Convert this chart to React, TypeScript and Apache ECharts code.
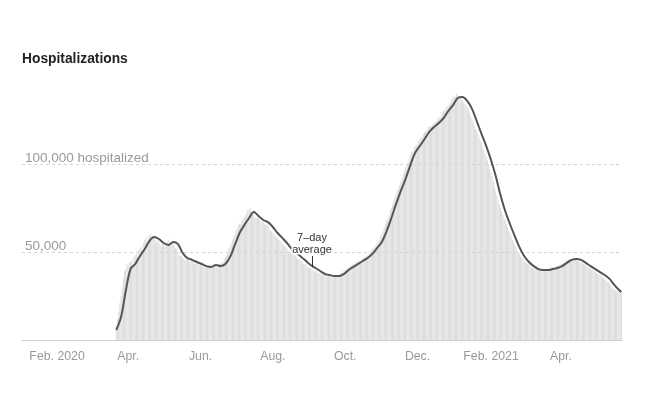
import React, { useEffect, useRef } from "react";
import * as echarts from "echarts";

// Axis extent (daily categories) and data start
const AXIS_START = "2020-01-08";
const AXIS_END = "2021-05-27";
const DATA_START = "2020-03-27";
const AVG_STEP_DAYS = 4;

// Tick dates and their labels
const tickDates = ["2020-02-01", "2020-04-01", "2020-06-01", "2020-08-01", "2020-10-01", "2020-12-01", "2021-02-01", "2021-04-01"];
const tickLabels = ["Feb. 2020", "Apr.", "Jun.", "Aug.", "Oct.", "Dec.", "Feb. 2021", "Apr."];

// Grid line values (thousands) and labels
const gridValues = [50, 100];
const gridLabels = ["50,000", "100,000 hospitalized"];

// Daily hospitalized (thousands), from 2020-03-27
const dailyHosp = [
  8, 12, 16, 21, 25, 30, 35, 39, 40, 43, 42, 44, 44, 45, 43, 47,
  48, 49, 47, 51, 52, 53, 51, 55, 57, 58, 56, 59, 59, 60, 57, 59,
  58, 57, 55, 57, 56, 54, 53, 55, 55, 53, 54, 56, 57, 55, 54, 56,
  55, 53, 52, 52, 50, 48, 48, 48, 47, 46, 45, 47, 46, 45, 44, 45,
  45, 44, 43, 44, 44, 43, 42, 43, 42, 42, 41, 42, 41, 42, 41, 43,
  42, 43, 42, 42, 42, 41, 42, 43, 43, 44, 44, 46, 47, 48, 50, 52,
  53, 55, 57, 59, 60, 62, 63, 65, 66, 66, 68, 69, 70, 71, 72, 74,
  74, 75, 72, 73, 71, 70, 69, 70, 69, 68, 67, 68, 67, 66, 65, 66,
  65, 63, 62, 62, 61, 60, 59, 59, 58, 57, 56, 56, 55, 54, 53, 53,
  52, 51, 50, 50, 49, 49, 48, 48, 47, 46, 46, 45, 45, 44, 43, 43,
  43, 42, 41, 41, 41, 40, 40, 39, 39, 39, 38, 38, 38, 37, 37, 37,
  37, 36, 36, 37, 36, 36, 36, 37, 36, 36, 37, 37, 37, 38, 38, 39,
  39, 40, 40, 41, 41, 42, 42, 43, 43, 43, 44, 44, 45, 45, 45, 46,
  46, 47, 47, 48, 48, 49, 50, 51, 52, 52, 53, 54, 55, 56, 57, 59,
  60, 62, 64, 66, 68, 69, 71, 74, 75, 77, 79, 81, 83, 85, 86, 88,
  90, 92, 94, 96, 98, 100, 101, 103, 105, 107, 107, 109, 110, 111, 111, 113,
  114, 115, 115, 117, 118, 119, 119, 121, 121, 122, 121, 123, 123, 124, 124, 126,
  126, 127, 127, 129, 130, 131, 131, 133, 133, 134, 135, 137, 138, 139, 138, 140,
  139, 138, 137, 137, 136, 135, 134, 133, 132, 131, 129, 127, 126, 124, 122, 120,
  119, 117, 115, 113, 112, 110, 108, 106, 104, 102, 100, 97, 95, 93, 90, 87,
  85, 82, 80, 77, 75, 73, 71, 69, 68, 66, 64, 62, 61, 59, 57, 56,
  54, 53, 51, 50, 49, 48, 47, 46, 45, 44, 44, 43, 43, 42, 41, 41,
  41, 40, 40, 40, 40, 40, 39, 40, 40, 40, 40, 40, 40, 41, 40, 41,
  41, 41, 41, 42, 42, 42, 43, 43, 43, 44, 44, 45, 45, 46, 46, 46,
  46, 46, 46, 46, 46, 45, 45, 44, 44, 44, 43, 43, 42, 42, 41, 41,
  41, 40, 40, 39, 39, 38, 38, 37, 37, 37, 36, 35, 35, 34, 33, 33,
  32, 31, 30, 29, 29, 28, 28, 27, 28, 27, 27,
];

// 7-day average (thousands), sampled every 4 days from 2020-03-27
const avgHosp = [
  5.7, 13.1, 27.8, 40.3, 43.2, 47.7, 51.7, 56.3, 58.5, 57.4,
  55.1, 54.0, 55.7, 54.5, 49.4, 46.6, 45.5, 44.3, 43.2, 42.0,
  41.5, 42.6, 42.0, 43.2, 47.2, 54.0, 60.8, 65.3, 69.3, 72.7,
  70.5, 68.2, 67.0, 64.2, 60.8, 58.0, 55.1, 51.7, 49.4, 47.2,
  44.9, 42.6, 40.9, 39.2, 37.5, 36.9, 36.4, 36.4, 37.5, 39.8,
  41.5, 43.2, 44.9, 46.6, 48.9, 52.3, 55.7, 61.9, 69.3, 77.3,
  84.7, 91.5, 99.4, 106.3, 110.2, 114.2, 118.2, 121.0, 123.3, 126.1,
  130.1, 133.5, 137.5, 138.1, 135.8, 131.3, 124.4, 117.1, 110.2, 102.3,
  93.2, 82.4, 73.3, 65.9, 59.1, 52.8, 47.7, 44.3, 42.0, 40.3,
  39.8, 39.8, 40.3, 40.9, 42.0, 43.8, 45.5, 46.0, 45.5, 43.8,
  42.0, 40.3, 38.6, 36.9, 34.7, 31.3, 28.4,
];
// Last day of 7-day average (2021-05-27)
const avgLastValue = 27.3;

const DAY = 86400000;
function dayList(start: string, end: string): string[] {
  const out: string[] = [];
  let t = Date.parse(start + "T00:00:00Z");
  const e = Date.parse(end + "T00:00:00Z");
  while (t <= e) {
    out.push(new Date(t).toISOString().slice(0, 10));
    t += DAY;
  }
  return out;
}

const FONT = "'Liberation Sans', Arial, sans-serif";

export default function App() {
  const ref = useRef<HTMLDivElement>(null);
  useEffect(() => {
    if (!ref.current) return;
    const chart = echarts.init(ref.current, undefined, { renderer: "svg" });
    const categories = dayList(AXIS_START, AXIS_END);
    const s = categories.indexOf(DATA_START);
    const barData = categories.map((_, j) => {
      const i = j - s;
      return i >= 0 && i < dailyHosp.length ? dailyHosp[i] : null;
    });
    const lineData: [string, number][] = avgHosp.map((v, k) => [categories[s + k * AVG_STEP_DAYS], v]);
    lineData.push([categories[s + dailyHosp.length - 1], avgLastValue]);
    const labelMap: Record<string, string> = {};
    tickDates.forEach((d, i) => (labelMap[d] = tickLabels[i]));
    const isTick = (_: number, v: string) => v in labelMap;

    chart.setOption({
      animation: false,
      textStyle: { fontFamily: FONT },
      grid: { left: 22, right: 36, top: 76, bottom: 55 },
      xAxis: {
        type: "category",
        data: categories,
        boundaryGap: true,
        axisLine: { lineStyle: { color: "#d0d0d0", width: 1 } },
        axisTick: {
          alignWithLabel: true,
          interval: isTick,
          length: 4,
          lineStyle: { color: "#aaa" },
        },
        axisLabel: {
          interval: isTick,
          formatter: (v: string) => labelMap[v] ?? "",
          color: "#999",
          fontSize: 12.3,
          fontFamily: FONT,
          margin: 10,
          padding: [0, 0, 0, 12],
        },
        splitLine: { show: false },
      },
      yAxis: {
        type: "value",
        min: 0,
        max: 150,
        axisLine: { show: false },
        axisTick: { show: false },
        axisLabel: { show: false },
        splitLine: { show: false },
      },
      series: [
        {
          type: "bar",
          data: barData,
          barCategoryGap: "12%",
          itemStyle: { color: "#dcdcdc" },
          silent: true,
          markLine: {
            silent: true,
            symbol: "none",
            animation: false,
            lineStyle: { color: "#d4d4d4", type: [3, 3], width: 1 },
            label: {
              position: "insideStartTop",
              color: "#999",
              fontSize: 13.5,
              fontFamily: FONT,
              distance: [3, 0],
            },
            data: gridValues.map((v, i) => ({ yAxis: v, label: { formatter: gridLabels[i] } })),
          },
        },
        {
          type: "line",
          data: lineData,
          smooth: 0.35,
          symbol: "none",
          silent: true,
          lineStyle: { color: "#555", width: 2 },
          z: 5,
        },
      ],
      graphic: [
        {
          type: "text",
          left: 22,
          top: 51,
          style: { text: "Hospitalizations", font: `bold 13.8px ${FONT}`, fill: "#222" },
        },
        {
          type: "line",
          z: 20,
          shape: { x1: 312.5, y1: 256, x2: 312.5, y2: 267 },
          style: { stroke: "#333", lineWidth: 1 },
        },
        {
          type: "text",
          z: 20,
          x: 312,
          y: 237,
          style: {
            text: "7\u2013day",
            font: `11px ${FONT}`,
            fill: "#333",
            align: "center",
            verticalAlign: "middle",
            stroke: "#fff",
            lineWidth: 3,
          },
        },
        {
          type: "text",
          z: 20,
          x: 312,
          y: 249,
          style: {
            text: "average",
            font: `11px ${FONT}`,
            fill: "#333",
            align: "center",
            verticalAlign: "middle",
            stroke: "#fff",
            lineWidth: 3,
          },
        },
      ],
    });
    return () => chart.dispose();
  }, []);
  return <div ref={ref} style={{ position: "fixed", left: 0, top: 0, width: 658, height: 395 }} />;
}
